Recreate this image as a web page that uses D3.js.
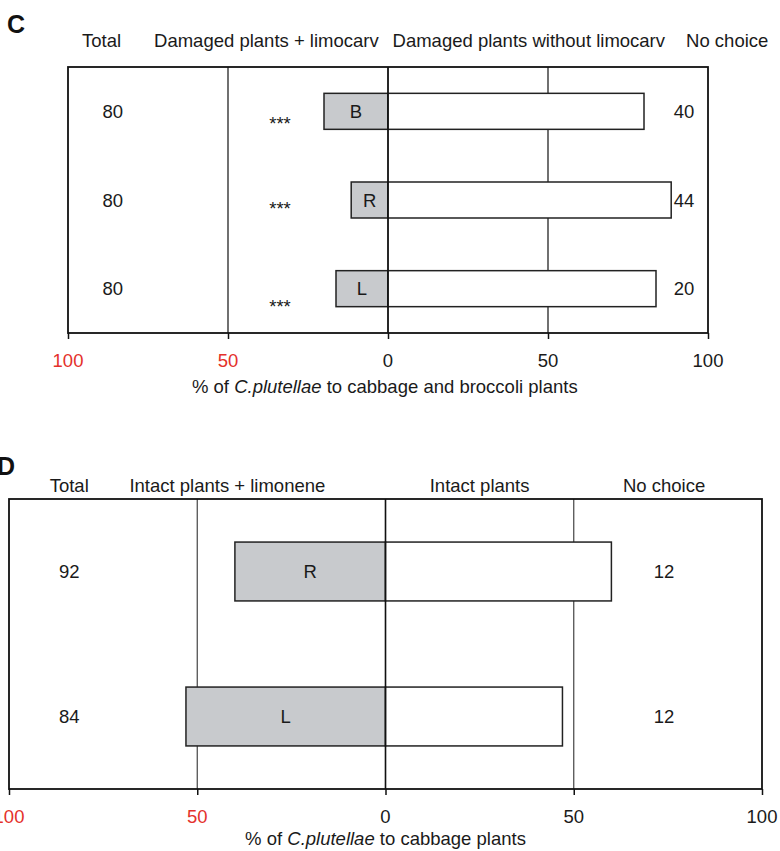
<!DOCTYPE html>
<html lang="en">
<head>
    <meta charset="UTF-8">
    <title>C. plutellae choice tests</title>
    <script src="https://d3js.org/d3.v7.min.js"></script>
    <style>
        body { margin: 0; background: #fff; }
        svg { display: block; font-family: "Liberation Sans", Arial, sans-serif; }
    </style>
</head>
<body>
<script>
// Panel C data (damaged plants, limocarv)
const cLabels = ['B', 'R', 'L'];
const cLeft = [20, 11.5, 16.25];
const cRight = [80, 88.5, 83.75];
const cTotal = [80, 80, 80];
const cNoChoice = [40, 44, 20];
const cSig = ['***', '***', '***'];
const cHeaders = ['Total', 'Damaged plants + limocarv', 'Damaged plants without limocarv', 'No choice'];

// Panel D data (intact plants, limonene)
const dLabels = ['R', 'L'];
const dLeft = [40, 53];
const dRight = [60, 47];
const dTotal = [92, 84];
const dNoChoice = [12, 12];
const dHeaders = ['Total', 'Intact plants + limonene', 'Intact plants', 'No choice'];

const tickValues = [-100, -50, 0, 50, 100];

const width = 780, height = 851;
const svg = d3.select('body').append('svg')
    .attr('width', width)
    .attr('height', height);

const fontSize = 18.5;
const textColor = '#1a1a1a';
const red = '#e4312b';
const grey = '#c8cacd';

function drawPanel(p) {
    const g = svg.append('g');
    const x = d3.scaleLinear().domain([-100, 100]).range([p.x0, p.x1]);
    const y = d3.scaleBand().domain(p.labels).range([p.y0, p.y1])
        .paddingInner(0.594).paddingOuter(0.297);

    // panel letter
    g.append('text')
        .attr('x', p.letterX).attr('y', p.letterY)
        .attr('font-size', 25).attr('font-weight', 'bold')
        .attr('fill', '#111')
        .text(p.letter);

    // column headers
    g.selectAll('.hdr').data(p.headers).join('text')
        .attr('x', (d, i) => x(p.headerPos[i]))
        .attr('y', p.headerY)
        .attr('text-anchor', 'middle')
        .attr('font-size', fontSize)
        .attr('fill', textColor)
        .text(d => d);

    // gridlines
    g.selectAll('.grid').data([-50, 0, 50]).join('line')
        .attr('x1', d => x(d)).attr('x2', d => x(d))
        .attr('y1', p.y0).attr('y2', p.y1)
        .attr('stroke', p.gridColor).attr('stroke-width', 1.2);

    // axis with ticks, labels drawn separately for colours
    const axis = d3.axisBottom(x).tickValues(tickValues).tickSize(6).tickFormat('');
    const ag = g.append('g').attr('transform', `translate(0,${p.y1})`).call(axis);
    ag.select('.domain').remove();
    ag.selectAll('line').attr('stroke', '#111').attr('stroke-width', 1.5);

    g.selectAll('.tick-label').data(tickValues).join('text')
        .attr('x', d => x(d))
        .attr('y', p.tickLabelY)
        .attr('text-anchor', 'middle')
        .attr('font-size', fontSize)
        .attr('fill', d => d < 0 ? red : textColor)
        .text(d => Math.abs(d));

    // gray bars (left side)
    g.selectAll('.left-bar').data(p.labels).join('rect')
        .attr('x', (d, i) => x(-p.left[i]))
        .attr('y', d => y(d))
        .attr('width', (d, i) => x(0) - x(-p.left[i]))
        .attr('height', y.bandwidth())
        .attr('fill', grey)
        .attr('stroke', '#222').attr('stroke-width', 1.5);

    // white bars (right side)
    g.selectAll('.right-bar').data(p.labels).join('rect')
        .attr('x', x(0))
        .attr('y', d => y(d))
        .attr('width', (d, i) => x(p.right[i]) - x(0))
        .attr('height', y.bandwidth())
        .attr('fill', '#fff')
        .attr('stroke', '#222').attr('stroke-width', 1.5);

    // zero line over bars
    g.append('line')
        .attr('x1', x(0)).attr('x2', x(0))
        .attr('y1', p.y0).attr('y2', p.y1)
        .attr('stroke', '#111').attr('stroke-width', 1.5);

    // letters inside gray bars
    g.selectAll('.bar-label').data(p.labels).join('text')
        .attr('x', (d, i) => x(-p.left[i] / 2))
        .attr('y', d => y(d) + y.bandwidth() / 2)
        .attr('dy', '0.36em')
        .attr('text-anchor', 'middle')
        .attr('font-size', fontSize)
        .attr('fill', textColor)
        .text(d => d);

    // totals
    g.selectAll('.total').data(p.total).join('text')
        .attr('x', x(p.totalPos))
        .attr('y', (d, i) => y(p.labels[i]) + y.bandwidth() / 2)
        .attr('dy', '0.36em')
        .attr('text-anchor', 'middle')
        .attr('font-size', fontSize)
        .attr('fill', textColor)
        .text(d => d);

    // no choice
    g.selectAll('.nochoice').data(p.noChoice).join('text')
        .attr('x', x(p.noChoicePos))
        .attr('y', (d, i) => y(p.labels[i]) + y.bandwidth() / 2)
        .attr('dy', '0.36em')
        .attr('text-anchor', 'middle')
        .attr('font-size', fontSize)
        .attr('fill', textColor)
        .text(d => d);

    // significance marks
    if (p.sig) {
        g.selectAll('.sig').data(p.sig).join('text')
            .attr('x', x(p.sigPos))
            .attr('y', (d, i) => y(p.labels[i]) + y.bandwidth() / 2 + p.sigOffset[i])
            .attr('text-anchor', 'middle')
            .attr('font-size', fontSize)
            .attr('fill', textColor)
            .text(d => d);
    }

    // frame
    g.append('rect')
        .attr('x', p.x0).attr('y', p.y0)
        .attr('width', p.x1 - p.x0).attr('height', p.y1 - p.y0)
        .attr('fill', 'none')
        .attr('stroke', '#111').attr('stroke-width', 1.8);

    // axis title
    const t = g.append('text')
        .attr('x', x(p.titlePos)).attr('y', p.titleY)
        .attr('text-anchor', 'middle')
        .attr('font-size', fontSize)
        .attr('fill', textColor);
    t.append('tspan').text('% of ');
    t.append('tspan').attr('font-style', 'italic').text('C.plutellae');
    t.append('tspan').text(p.titleRest);
}

drawPanel({
    letter: 'C', letterX: 7, letterY: 33,
    x0: 68, x1: 708, y0: 67, y1: 333,
    labels: cLabels, left: cLeft, right: cRight,
    total: cTotal, noChoice: cNoChoice, sig: cSig,
    headers: cHeaders, headerPos: [-89.5, -38, 44, 106], headerY: 47,
    totalPos: -86, noChoicePos: 92.5, sigPos: -33.75, sigOffset: [19, 15, 24],
    gridColor: '#111', tickLabelY: 367,
    titlePos: -1, titleY: 393, titleRest: ' to cabbage and broccoli plants'
});

drawPanel({
    letter: 'D', letterX: -3, letterY: 475,
    x0: 9, x1: 762, y0: 499, y1: 789,
    labels: dLabels, left: dLeft, right: dRight,
    total: dTotal, noChoice: dNoChoice, sig: null,
    headers: dHeaders, headerPos: [-84, -42, 25, 74], headerY: 492,
    totalPos: -84, noChoicePos: 74,
    gridColor: '#444', tickLabelY: 823,
    titlePos: 0, titleY: 845, titleRest: ' to cabbage plants'
});
</script>
</body>
</html>
